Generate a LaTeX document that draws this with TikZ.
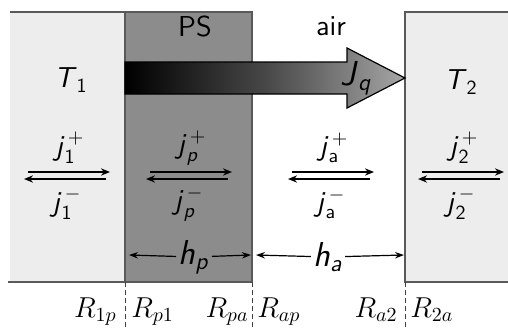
\documentclass[tikz,border=0pt]{standalone}
\usepackage{amsmath}
\usetikzlibrary{arrows.meta}
\definecolor{bathgray}{gray}{0.93}
\definecolor{psgray}{gray}{0.55}
\definecolor{edgegray}{gray}{0.35}
\newcommand{\sfi}[1]{\textsf{\textit{#1}}}
\newcommand{\sfu}[1]{\textsf{#1}}
\tikzset{
  edge/.style={draw=edgegray, line width=0.7pt},
  flux/.style={-{Stealth[length=4.5pt,width=3.6pt]}, line width=0.8pt},
  span/.style={-{Stealth[length=4.5pt,width=3.2pt]}, line width=0.6pt},
  lab/.style={font=\Large, inner sep=1pt},
  jlab/.style={font=\Large, inner sep=0pt},
  rlab/.style={font=\Large, inner sep=0pt},
  cut/.style={draw=black!75, dash pattern=on 2.5pt off 1.5pt, line width=0.5pt},
  heat/.style={left color=black, right color=black!35, middle color=black!72,
               draw=black, line width=0.6pt},
}

\begin{document}
\begin{tikzpicture}[x=0.5pt, y=-0.5pt]
\useasboundingbox (0,0) rectangle (508,327);

% reservoirs, plate, gap
\fill[bathgray] (10,12) rectangle (125,282);
\fill[psgray] (125,12) rectangle (252,282);
\fill[bathgray] (405,12) rectangle (508,282);
\draw[edge] (10,12) -- (252,12) -- (252,282);
\draw[edge] (8,282) -- (252,282);
\draw[edge] (125,12) -- (125,282);
\draw[edge] (508,12) -- (405,12) -- (405,282) -- (508,282);

% heat flow arrow
\shade[heat] (125,62) -- (347,62) -- (347,48) -- (405,78) -- (347,108)
  -- (347,94) -- (125,94) -- cycle;
\node[lab] (jq) at (356,78) {\LARGE$\sfi{J}_{\sfi{q}}$};

\node[lab] (ps) at (195,27) {\sfu{PS}};
\node[lab] (air) at (331,26) {\sfu{air}};
\node[lab] (t1) at (71,80) {$\sfi{T}_{\sfu{1}}$};
\node[lab] (t2) at (461,82) {$\sfi{T}_{\sfu{2}}$};

% forward and backward fluxes
\foreach \n/\c/\s in {1/67/{\sfu{1}}, p/189/{\sfi{p}}, a/331/{\sfu{a}},
                      2/461/{\sfu{2}}} {
    \coordinate (u\n a) at (\c-39,172);
    \coordinate (u\n b) at (\c+43,172);
    \coordinate (l\n a) at (\c+39,179);
    \coordinate (l\n b) at (\c-43,179);
    \draw[flux] (u\n a) -- (u\n b);
    \draw[flux] (l\n a) -- (l\n b);
    \node[jlab] (jp\n) at (\c+3,148) {$\sfi{j}_{\s}^{\,+}$};
    \node[jlab] (jm\n) at (\c,204) {$\sfi{j}_{\s}^{\,-}$};
}

% thicknesses
\node[lab] (hp) at (194,257) {\LARGE$\sfi{h}_{\sfi{p}}$};
\coordinate (hpl) at (129,255);
\coordinate (hpr) at (251,255);
\draw[span] (hp) -- (hpl);
\draw[span] (hp) -- (hpr);
\node[lab] (ha) at (328,257) {\LARGE$\sfi{h}_{\sfi{a}}$};
\coordinate (hal) at (256,255);
\coordinate (har) at (404,255);
\draw[span] (ha) -- (hal);
\draw[span] (ha) -- (har);

% interfaces
\foreach \x in {125,252,405}
    \draw[cut] (\x,282) -- (\x,327);
\node[rlab, anchor=base east] (r1p) at (117,317) {$R_{1p}$};
\node[rlab, anchor=base west] (rp1) at (131,317) {$R_{p1}$};
\node[rlab, anchor=base east] (rpa) at (249,317) {$R_{pa}$};
\node[rlab, anchor=base west] (rap) at (257,317) {$R_{ap}$};
\node[rlab, anchor=base east] (ra2) at (398,317) {$R_{a2}$};
\node[rlab, anchor=base west] (r2a) at (410,317) {$R_{2a}$};

\end{tikzpicture}
\end{document}
